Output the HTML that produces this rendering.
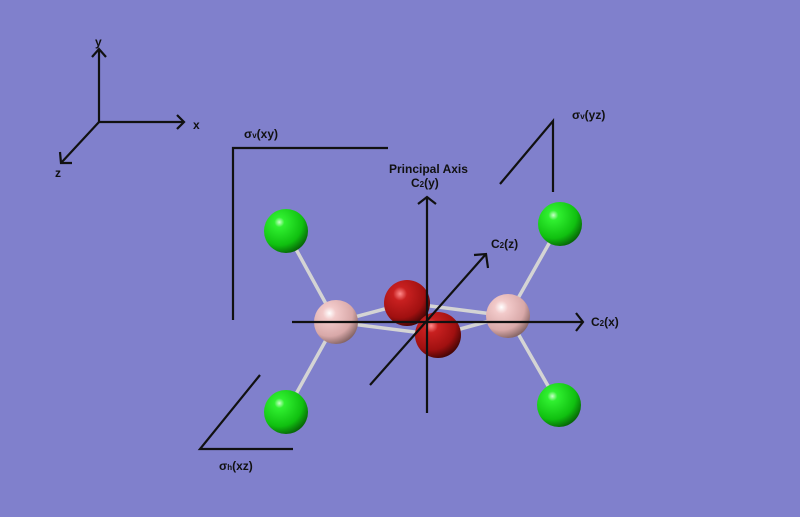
<!DOCTYPE html>
<html><head><style>
html,body{margin:0;padding:0;background:#8080cc;}
svg{display:block}
text{font-family:"Liberation Sans",sans-serif;font-weight:bold;fill:#111;}
</style></head><body>
<svg width="800" height="517" viewBox="0 0 800 517">
<defs>
<radialGradient id="g" cx="0.35" cy="0.3" r="0.75"><stop offset="0" stop-color="#c8ffc8"/><stop offset="0.15" stop-color="#30f030"/><stop offset="0.7" stop-color="#10c010"/><stop offset="1" stop-color="#066006"/></radialGradient>
<radialGradient id="p" cx="0.35" cy="0.3" r="0.75"><stop offset="0" stop-color="#fff"/><stop offset="0.2" stop-color="#f2caca"/><stop offset="0.7" stop-color="#d8a8a8"/><stop offset="1" stop-color="#806060"/></radialGradient>
<radialGradient id="r" cx="0.35" cy="0.3" r="0.75"><stop offset="0" stop-color="#ff8a8a"/><stop offset="0.2" stop-color="#c82020"/><stop offset="0.7" stop-color="#a01010"/><stop offset="1" stop-color="#400404"/></radialGradient>
</defs>
<g stroke="#111" stroke-width="2.2" fill="none">
<line x1="99" y1="122" x2="99" y2="49"/><polyline points="92,57 99,49 106,57"/>
<line x1="99" y1="122" x2="184" y2="122"/><polyline points="177,115 184,122 177,129"/>
<line x1="99" y1="122" x2="61" y2="163"/><polyline points="60,152 61,163 72,163"/>
<polyline points="233,320 233,148 388,148"/>
<polyline points="500,184 553,121 553,192"/>
<polyline points="260,375 200,449 293,449"/>
</g>
<g stroke="#d4d4d4" stroke-width="3.5" stroke-linecap="round">
<line x1="286" y1="231" x2="336" y2="322"/>
<line x1="286" y1="412" x2="336" y2="322"/>
<line x1="560" y1="224" x2="508" y2="316"/>
<line x1="559" y1="405" x2="508" y2="316"/>
<line x1="336" y1="322" x2="407" y2="303"/>
<line x1="336" y1="322" x2="438" y2="335"/>
<line x1="508" y1="316" x2="407" y2="303"/>
<line x1="508" y1="316" x2="438" y2="335"/>
</g>
<circle cx="286" cy="231" r="22" fill="url(#g)"/>
<circle cx="560" cy="224" r="22" fill="url(#g)"/>
<circle cx="286" cy="412" r="22" fill="url(#g)"/>
<circle cx="559" cy="405" r="22" fill="url(#g)"/>
<circle cx="336" cy="322" r="22" fill="url(#p)"/>
<circle cx="508" cy="316" r="22" fill="url(#p)"/>
<circle cx="407" cy="303" r="23" fill="url(#r)"/>
<circle cx="438" cy="335" r="23" fill="url(#r)"/>
<g stroke="#111" stroke-width="2.2" fill="none">
<line x1="427" y1="413" x2="427" y2="197"/><polyline points="418,204 427,197 436,204"/>
<line x1="292" y1="322" x2="583" y2="322"/><polyline points="576,313 583,322 576,331"/>
<line x1="370" y1="385" x2="486" y2="254"/><polyline points="474,255 486,254 488,268"/>
</g>
<g font-size="12">
<text x="95" y="46">y</text>
<text x="193" y="129">x</text>
<text x="55" y="177">z</text>
<text x="244" y="138">σ<tspan font-size="8">v</tspan>(xy)</text>
<text x="572" y="119">σ<tspan font-size="8">v</tspan>(yz)</text>
<text x="219" y="470">σ<tspan font-size="8">h</tspan>(xz)</text>
<text x="389" y="173">Principal Axis</text>
<text x="411" y="187">C<tspan font-size="8">2</tspan>(y)</text>
<text x="491" y="248">C<tspan font-size="8">2</tspan>(z)</text>
<text x="591" y="326">C<tspan font-size="8">2</tspan>(x)</text>
</g>
</svg>
</body></html>
